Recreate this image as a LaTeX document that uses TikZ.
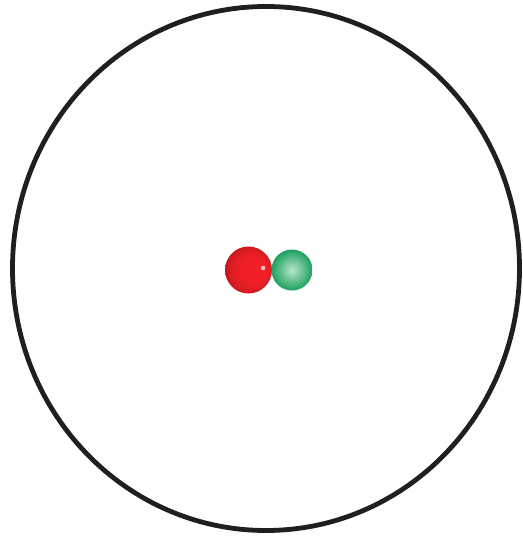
\documentclass[tikz,border=0pt]{standalone}
\usetikzlibrary{shadings}
\definecolor{redball}{RGB}{240,32,38}
\definecolor{reddark}{RGB}{185,20,24}
\definecolor{greenedge}{RGB}{30,160,95}
\definecolor{greenlight}{RGB}{185,230,200}
\pgfdeclareradialshading{redsphere}{\pgfpoint{0.35cm}{0cm}}{%
  color(0cm)=(redball);
  color(0.45cm)=(redball);
  color(0.75cm)=(redball!92!black);
  color(1cm)=(reddark)}
\tikzset{
  ring/.style={draw=black!88, line width=4.8pt},
}
\begin{document}
\begin{tikzpicture}[x=1pt,y=-1pt]
\useasboundingbox (0,0) rectangle (522,537);
\draw[ring] (266,268.5) ellipse [x radius=253.5, y radius=262];
% red ball
\shade[shading=redsphere] (248.5,270) circle (23.5);
\fill[white!70!redball] (263,268) circle (2.3);
% green ball
\shade[inner color=greenlight, outer color=greenedge] (292,270) circle (20.5);
\end{tikzpicture}
\end{document}
